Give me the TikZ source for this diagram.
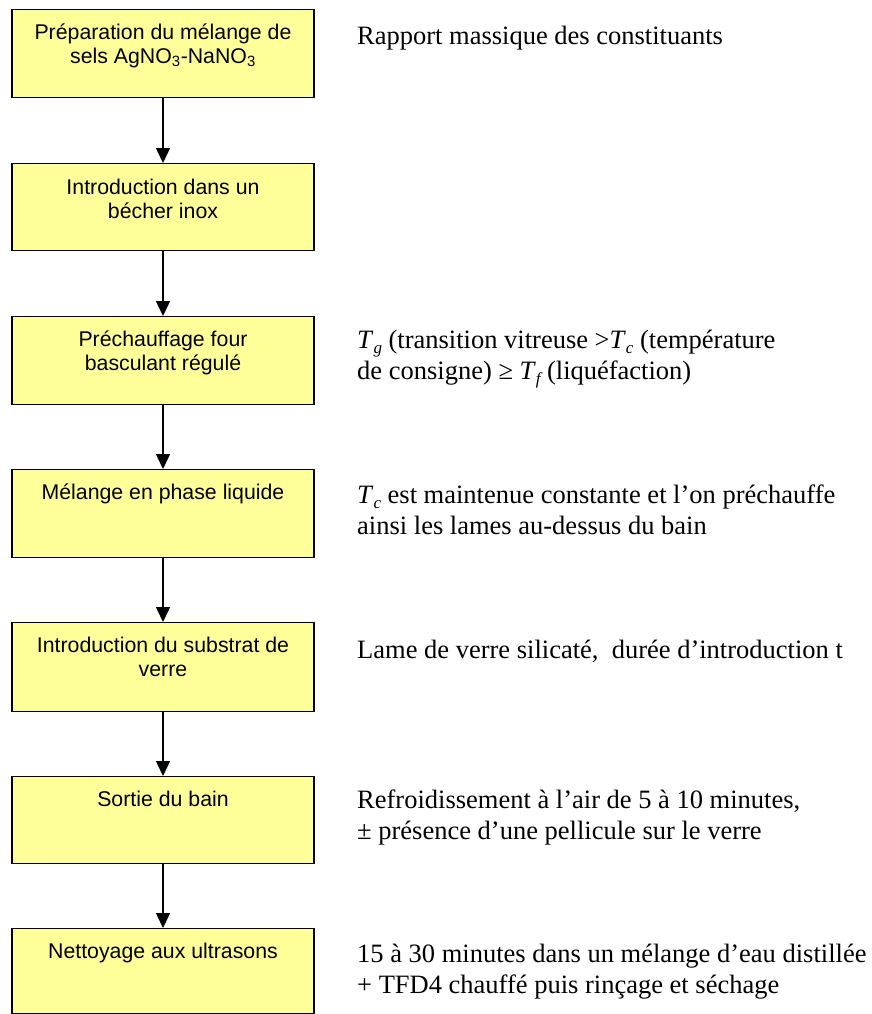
\documentclass[tikz,border=0pt]{standalone}
\usepackage{fontspec}
\setmainfont{Liberation Serif}
\newfontfamily\boxfont{Liberation Sans}
\usetikzlibrary{arrows.meta}
\definecolor{boxyellow}{HTML}{FFFF99}
\newcommand\Tsb[1]{\textit{T}\raisebox{-0.22em}{\fontsize{17}{17}\selectfont\textit{#1}}}
\newcommand\boxtxt[1]{{\boxfont\fontsize{21.3}{24}\selectfont\begin{tabular}[t]{@{}c@{}}#1\end{tabular}}}
\newcommand\notetxt[1]{{\fontsize{26.5}{31}\selectfont\begin{tabular}[t]{@{}l@{}}#1\end{tabular}}}
\tikzset{
  stepbox/.style={draw=black, line width=1.3pt, fill=boxyellow, minimum width=302pt, inner sep=0pt, anchor=north},
  boxlabel/.style={anchor=base, inner sep=0pt},
  notelabel/.style={anchor=base west, inner sep=0pt},
  flowarrow/.style={draw=black, line width=1.4pt, -{Triangle[width=14pt,length=15pt]}}
}
\begin{document}
\begin{tikzpicture}[x=1pt,y=1pt]
\useasboundingbox (0,0) rectangle (871,-1014);
% boxes
\node[stepbox, minimum height=88pt] (b1) at (163,-9) {};
\node[stepbox, minimum height=87pt] (b2) at (163,-163) {};
\node[stepbox, minimum height=88pt] (b3) at (163,-316) {};
\node[stepbox, minimum height=88pt] (b4) at (163,-469) {};
\node[stepbox, minimum height=89pt] (b5) at (163,-622) {};
\node[stepbox, minimum height=87pt] (b6) at (163,-776) {};
\node[stepbox, minimum height=85pt] (b7) at (163,-928) {};
% box texts
\node[boxlabel] (t1) at ([yshift=-30.5pt]b1.north) {\boxtxt{Préparation du mélange de\\sels AgNO\textsubscript{3}-NaNO\textsubscript{3}}};
\node[boxlabel] (t2) at ([yshift=-31.5pt]b2.north) {\boxtxt{Introduction dans un\\bécher inox}};
\node[boxlabel] (t3) at ([yshift=-30.5pt]b3.north) {\boxtxt{Préchauffage four\\basculant régulé}};
\node[boxlabel] (t4) at ([yshift=-30.5pt]b4.north) {\boxtxt{Mélange en phase liquide}};
\node[boxlabel] (t5) at ([yshift=-30.5pt]b5.north) {\boxtxt{Introduction du substrat de\\verre}};
\node[boxlabel] (t6) at ([yshift=-30.5pt]b6.north) {\boxtxt{Sortie du bain}};
\node[boxlabel] (t7) at ([yshift=-30.5pt]b7.north) {\boxtxt{Nettoyage aux ultrasons}};
% arrows
\draw[flowarrow] (b1.south) -- (b2.north);
\draw[flowarrow] (b2.south) -- (b3.north);
\draw[flowarrow] (b3.south) -- (b4.north);
\draw[flowarrow] (b4.south) -- (b5.north);
\draw[flowarrow] (b5.south) -- (b6.north);
\draw[flowarrow] (b6.south) -- (b7.north);
% notes
\node[notelabel] (n1) at (357,-45) {\notetxt{Rapport massique des constituants}};
\node[notelabel] (n3) at (357,-348) {\notetxt{\Tsb{g} (transition vitreuse >\Tsb{c} (température\\de consigne) ≥ \Tsb{f}\,(liquéfaction)}};
\node[notelabel] (n4) at (357,-503) {\notetxt{\Tsb{c} est maintenue constante et l’on préchauffe\\ainsi les lames au-dessus du bain}};
\node[notelabel] (n5) at (357,-658) {\notetxt{Lame de verre silicaté,\ \ durée d’introduction t}};
\node[notelabel] (n6) at (357,-808) {\notetxt{Refroidissement à l’air de 5 à 10 minutes,\\± présence d’une pellicule sur le verre}};
\node[notelabel] (n7) at (357,-962) {\notetxt{15 à 30 minutes dans un mélange d’eau distillée\\+ TFD4 chauffé puis rinçage et séchage}};
\end{tikzpicture}
\end{document}
